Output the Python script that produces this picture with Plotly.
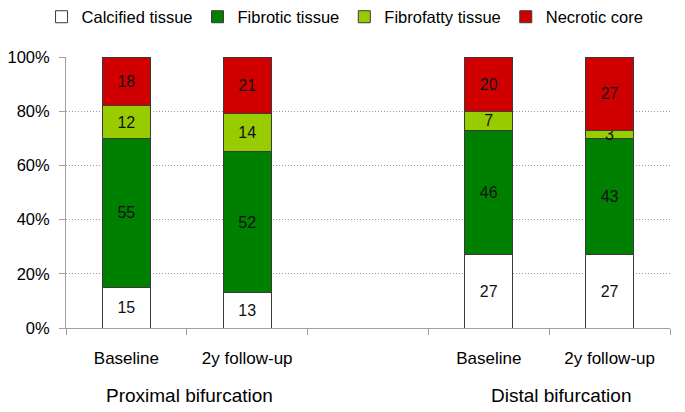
import plotly.graph_objects as go

# Data
positions = [0, 1, 3, 4]
tick_labels = ["Baseline", "2y follow-up", "Baseline", "2y follow-up"]
groups = ["Proximal bifurcation", "Distal bifurcation"]
group_pos = [0.52, 3.6]
calcified = [15, 13, 27, 27]
fibrotic = [55, 52, 46, 43]
fibrofatty = [12, 14, 7, 3]
necrotic = [18, 21, 20, 27]
y_ticks = [0, 20, 40, 60, 80, 100]
y_tick_text = ["0%", "20%", "40%", "60%", "80%", "100%"]

series = [
    ("Calcified tissue", calcified, "#FFFFFF"),
    ("Fibrotic tissue", fibrotic, "#008000"),
    ("Fibrofatty tissue", fibrofatty, "#99CC00"),
    ("Necrotic core", necrotic, "#D00000"),
]

fig = go.Figure()
for name, vals, col in series:
    fig.add_trace(go.Bar(
        x=positions, y=vals, name=name, width=0.4,
        marker=dict(color=col, line=dict(color="#3a3a3a", width=1)),
        text=[str(v) for v in vals], textposition="inside", textangle=0,
        insidetextanchor="middle",
        textfont=dict(family="Liberation Sans, Arial", size=16, color="#111111"),
        hoverinfo="skip",
    ))

for g, gx in zip(groups, group_pos):
    fig.add_annotation(x=gx, y=0, xref="x", yref="paper", yshift=-80,
                       text=g, showarrow=False,
                       font=dict(family="Liberation Sans, Arial", size=19, color="#000"))

fig.update_layout(
    barmode="stack",
    width=685, height=412,
    margin=dict(l=58, r=23, t=49, b=92, autoexpand=False),
    plot_bgcolor="white", paper_bgcolor="white",
    uniformtext=dict(minsize=16, mode="show"),
    showlegend=True,
    legend=dict(orientation="h", x=0.462, xanchor="center", y=1.1476, yanchor="middle",
                yref="paper", traceorder="normal",
                font=dict(family="Liberation Sans, Arial", size=16.5, color="#000"),
                itemwidth=30),
    xaxis=dict(range=[-0.5, 4.5], tickvals=positions, ticktext=tick_labels,
               ticks="", showgrid=False, zeroline=False, automargin=False,
               showline=True, linecolor="#A0A0A0", linewidth=1,
               tickfont=dict(family="Liberation Sans, Arial", size=17, color="#000"),
               ticklabelstandoff=15,
               minor=dict(tickvals=[-0.5, 0.5, 1.5, 2.5, 3.5, 4.5], ticks="outside",
                          ticklen=6, tickcolor="#A0A0A0", showgrid=False)),
    yaxis=dict(range=[0, 100], tickvals=y_ticks, ticktext=y_tick_text,
               showgrid=True, gridcolor="#9A9A9A", griddash="1px,2px", gridwidth=1,
               zeroline=False, showline=True, linecolor="#A0A0A0", linewidth=1,
               automargin=False, ticklabelstandoff=6,
               ticks="outside", ticklen=6, tickcolor="#A0A0A0",
               tickfont=dict(family="Liberation Sans, Arial", size=16.5, color="#000")),
)

fig.write_html("out.html")
